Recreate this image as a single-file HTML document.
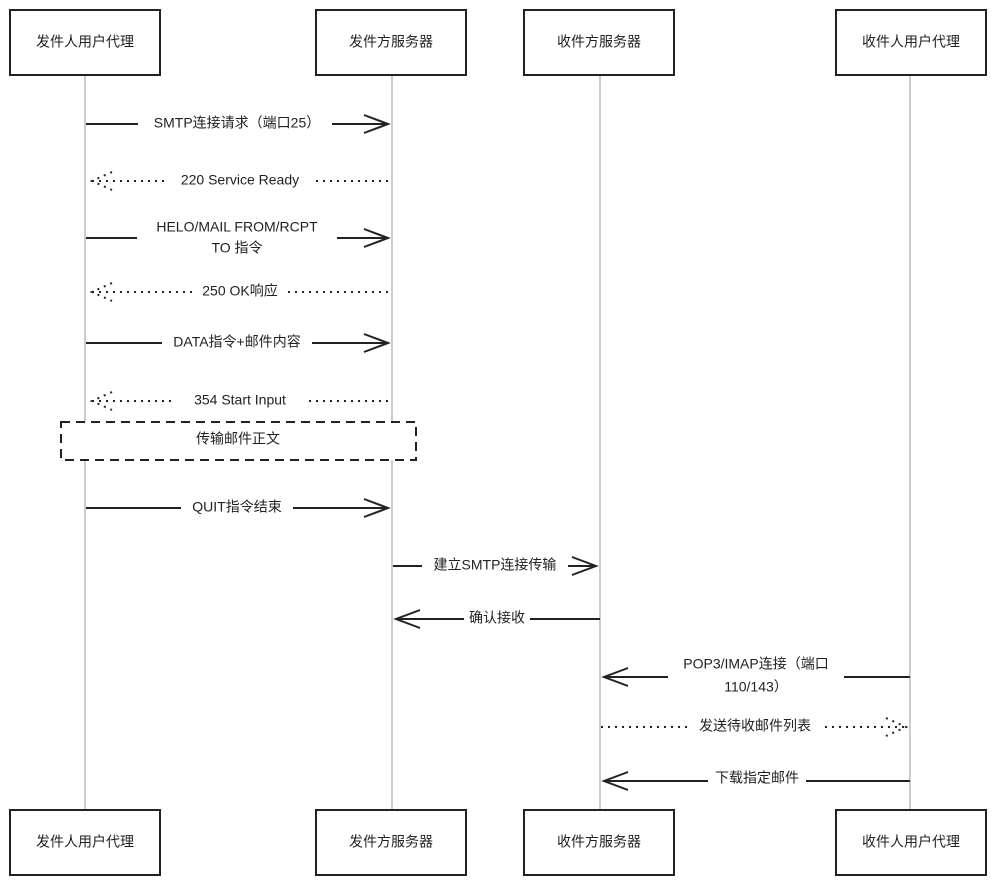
<!DOCTYPE html>
<html><head><meta charset="utf-8"><style>
html,body{margin:0;padding:0;background:#fff;}
svg{display:block;}
text{font-family:"Liberation Sans","Noto Sans CJK SC",sans-serif;font-size:14px;fill:#222;text-anchor:middle;dominant-baseline:middle;}
.box{fill:#fff;stroke:#222;stroke-width:2;}
.life{stroke:#999;stroke-width:1;}
.s{stroke:#222;stroke-width:2;fill:none;}
.d{stroke:#222;stroke-width:2;fill:none;stroke-dasharray:2 5;}
.lb{fill:#fff;}
</style></head><body>
<svg width="995" height="885" viewBox="0 0 995 885" xmlns="http://www.w3.org/2000/svg">
<line class="life" x1="85" y1="75" x2="85" y2="810"/>
<line class="life" x1="392" y1="75" x2="392" y2="810"/>
<line class="life" x1="600" y1="75" x2="600" y2="810"/>
<line class="life" x1="910" y1="75" x2="910" y2="810"/>

<rect class="box" x="10" y="10" width="150" height="65"/><text x="85" y="43">发件人用户代理</text>
<rect class="box" x="316" y="10" width="150" height="65"/><text x="391" y="43">发件方服务器</text>
<rect class="box" x="524" y="10" width="150" height="65"/><text x="599" y="43">收件方服务器</text>
<rect class="box" x="836" y="10" width="150" height="65"/><text x="911" y="43">收件人用户代理</text>
<rect class="box" x="10" y="810" width="150" height="65"/><text x="85" y="843">发件人用户代理</text>
<rect class="box" x="316" y="810" width="150" height="65"/><text x="391" y="843">发件方服务器</text>
<rect class="box" x="524" y="810" width="150" height="65"/><text x="599" y="843">收件方服务器</text>
<rect class="box" x="836" y="810" width="150" height="65"/><text x="911" y="843">收件人用户代理</text>

<!-- 1 -->
<line class="s" x1="86" y1="124" x2="388" y2="124"/><path class="s" d="M364 115 L388 124 L364 133"/>
<rect class="lb" x="138" y="114" width="194" height="20"/><text x="237" y="124">SMTP连接请求（端口25）</text>
<!-- 2 -->
<line class="d" x1="92" y1="181" x2="390" y2="181"/><path class="d" d="M112 172 L92 181 L112 190"/>
<rect class="lb" x="165" y="171" width="150" height="20"/><text x="240" y="181">220 Service Ready</text>
<!-- 3 -->
<line class="s" x1="86" y1="238" x2="388" y2="238"/><path class="s" d="M364 229 L388 238 L364 247"/>
<rect class="lb" x="137" y="222" width="200" height="36"/><text x="237" y="228">HELO/MAIL FROM/RCPT</text><text x="237" y="249">TO 指令</text>
<!-- 4 -->
<line class="d" x1="92" y1="292" x2="390" y2="292"/><path class="d" d="M112 283 L92 292 L112 301"/>
<rect class="lb" x="194" y="282" width="92" height="20"/><text x="240" y="292">250 OK响应</text>
<!-- 5 -->
<line class="s" x1="86" y1="343" x2="388" y2="343"/><path class="s" d="M364 334 L388 343 L364 352"/>
<rect class="lb" x="162" y="333" width="150" height="20"/><text x="237" y="343">DATA指令+邮件内容</text>
<!-- 6 -->
<line class="d" x1="92" y1="401" x2="390" y2="401"/><path class="d" d="M112 392 L92 401 L112 410"/>
<rect class="lb" x="174" y="391" width="132" height="20"/><text x="240" y="401">354 Start Input</text>
<!-- note -->
<rect x="61" y="422" width="355" height="38" fill="#fff" stroke="#222" stroke-width="2" stroke-dasharray="9 6"/>
<text x="238" y="440">传输邮件正文</text>
<!-- 7 -->
<line class="s" x1="86" y1="508" x2="388" y2="508"/><path class="s" d="M364 499 L388 508 L364 517"/>
<rect class="lb" x="181" y="498" width="112" height="20"/><text x="237" y="508">QUIT指令结束</text>
<!-- 8 -->
<line class="s" x1="393" y1="566" x2="596" y2="566"/><path class="s" d="M572 557 L596 566 L572 575"/>
<rect class="lb" x="422" y="556" width="146" height="20"/><text x="495" y="566">建立SMTP连接传输</text>
<!-- 9 -->
<line class="s" x1="396" y1="619" x2="600" y2="619"/><path class="s" d="M420 610 L396 619 L420 628"/>
<rect class="lb" x="464" y="609" width="66" height="20"/><text x="497" y="619">确认接收</text>
<!-- 10 -->
<line class="s" x1="604" y1="677" x2="910" y2="677"/><path class="s" d="M628 668 L604 677 L628 686"/>
<rect class="lb" x="668" y="656" width="176" height="40"/><text x="756" y="665">POP3/IMAP连接（端口</text><text x="756" y="688">110/143）</text>
<!-- 11 -->
<line class="d" x1="601" y1="727" x2="906" y2="727"/><path class="d" d="M886 718 L906 727 L886 736"/>
<rect class="lb" x="688" y="717" width="134" height="20"/><text x="755" y="727">发送待收邮件列表</text>
<!-- 12 -->
<line class="s" x1="604" y1="781" x2="910" y2="781"/><path class="s" d="M628 772 L604 781 L628 790"/>
<rect class="lb" x="708" y="771" width="98" height="20"/><text x="757" y="779">下载指定邮件</text>
</svg>
</body></html>
